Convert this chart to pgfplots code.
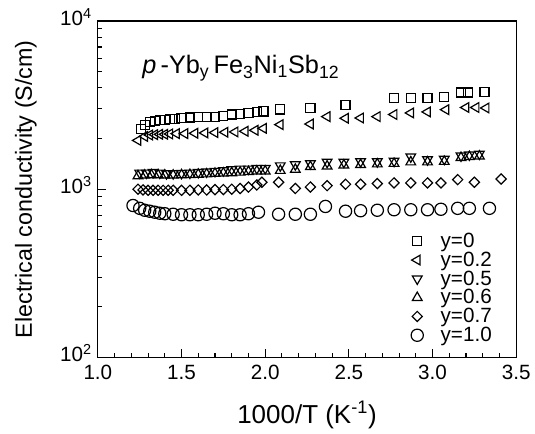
\documentclass[border=0pt]{standalone}
\usepackage{fontspec}
\setmainfont{Liberation Sans}
\usepackage{pgfplots}
\pgfplotsset{compat=1.18}
\begin{document}
\begin{tikzpicture}
\begin{axis}[
  scale only axis,
  width=314.25pt, height=252.75pt,
  ymode=log,
  xmin=1.0, xmax=3.5, ymin=100, ymax=10000,
  xtick={1.0,1.5,2.0,2.5,3.0,3.5},
  minor x tick num=4,
  ytick={100,1000,10000},
  yticklabels={10\textsuperscript{2},10\textsuperscript{3},10\textsuperscript{4}},
  xticklabel style={yshift=-2pt, /pgf/number format/fixed, /pgf/number format/fixed zerofill, /pgf/number format/precision=1},
  /pgf/number format/assume math mode=true,
  tick align=inside, tick pos=left,
  major tick length=6pt, minor tick length=3pt,
  tick style={line width=0.8pt, black},
  axis line style={line width=0.9pt},
  ticklabel style={font=\fontsize{15.5}{17}\selectfont},
  yticklabel style={xshift=-1pt, yshift=3pt},
  xlabel={1000/T (K\textsuperscript{-1})},
  ylabel={Electrical conductivity (S/cm)},
  xlabel style={font=\fontsize{19.5}{21}\selectfont, at={(axis description cs:0.5,-0.170)}, anchor=center},
  ylabel style={font=\fontsize{17.5}{19}\selectfont, at={(axis description cs:-0.172,0.5)}, anchor=center},
  legend style={draw=none, fill=none, at={(0.958,0.025)}, anchor=south east,
    font=\fontsize{15.5}{16}\selectfont, row sep=-2.2pt, cells={anchor=west}},
  legend cell align=left,
  every axis plot/.append style={only marks, black, line width=0.9pt, mark options={solid, fill=none}},
]
% y=0
\addplot[mark=square, mark size=3.4pt] coordinates {
(1.26,2280)(1.28,2420)(1.31,2500)(1.34,2540)(1.37,2570)(1.40,2590)(1.43,2610)(1.46,2620)(1.50,2640)(1.55,2670)(1.60,2680)(1.65,2690)(1.70,2700)(1.75,2730)(1.80,2780)(1.85,2810)(1.90,2850)(1.95,2880)(1.99,2900)(2.09,2980)(2.27,3050)(2.48,3150)(2.77,3470)(2.87,3480)(2.97,3500)(3.07,3530)(3.17,3760)(3.21,3760)(3.31,3800)};
\addlegendentry{\hspace{11pt}y=0}
% y=0.2
\addplot[mark=triangle, mark size=4.2pt, mark options={rotate=90}] coordinates {
(1.24,1950)(1.28,2060)(1.31,2100)(1.34,2110)(1.37,2120)(1.40,2120)(1.43,2130)(1.47,2140)(1.52,2140)(1.58,2150)(1.64,2160)(1.70,2170)(1.76,2180)(1.82,2190)(1.88,2210)(1.94,2240)(1.99,2300)(2.09,2420)(2.27,2440)(2.37,2700)(2.48,2640)(2.57,2650)(2.67,2700)(2.77,2780)(2.87,2840)(2.97,2880)(3.08,2970)(3.20,3060)(3.26,3060)(3.32,3040)};
\addlegendentry{\hspace{11pt}y=0.2}
% y=0.5
\addplot[mark=triangle, mark size=4.2pt, mark options={rotate=180}] coordinates {
(1.25,1250)(1.29,1250)(1.33,1260)(1.37,1250)(1.41,1240)(1.45,1240)(1.50,1245)(1.55,1250)(1.60,1260)(1.65,1270)(1.70,1280)(1.75,1290)(1.80,1310)(1.85,1320)(1.90,1320)(1.95,1330)(2.00,1330)(2.09,1380)(2.18,1400)(2.27,1420)(2.37,1450)(2.47,1450)(2.57,1460)(2.67,1460)(2.77,1470)(2.87,1560)(2.97,1500)(3.07,1510)(3.17,1580)(3.22,1600)(3.28,1620)};
\addlegendentry{\hspace{11pt}y=0.5}
% y=0.6
\addplot[mark=triangle, mark size=4.2pt] coordinates {
(1.24,1200)(1.28,1210)(1.32,1215)(1.36,1215)(1.40,1210)(1.45,1210)(1.50,1215)(1.55,1220)(1.60,1225)(1.65,1230)(1.70,1240)(1.75,1245)(1.80,1250)(1.85,1260)(1.90,1270)(1.95,1280)(2.00,1280)(2.09,1290)(2.18,1310)(2.27,1360)(2.37,1370)(2.47,1390)(2.57,1400)(2.67,1410)(2.77,1420)(2.87,1450)(2.97,1450)(3.07,1460)(3.17,1540)(3.22,1560)(3.28,1570)};
\addlegendentry{\hspace{11pt}y=0.6}
% y=0.7
\addplot[mark=square, mark size=2.7pt, mark options={rotate=45}] coordinates {
(1.24,1000)(1.27,990)(1.30,985)(1.33,985)(1.36,985)(1.39,985)(1.42,985)(1.45,985)(1.50,985)(1.55,985)(1.60,990)(1.65,990)(1.70,995)(1.75,995)(1.80,1000)(1.85,1010)(1.90,1030)(1.95,1060)(1.98,1100)(2.08,1100)(2.18,1010)(2.27,1030)(2.37,1050)(2.48,1070)(2.57,1070)(2.67,1080)(2.77,1090)(2.87,1090)(2.97,1090)(3.05,1090)(3.15,1140)(3.25,1100)(3.41,1150)};
\addlegendentry{\hspace{11pt}y=0.7}
% y=1.0
\addplot[mark=o, mark size=4.6pt] coordinates {
(1.21,800)(1.25,770)(1.28,750)(1.31,740)(1.34,730)(1.37,720)(1.40,715)(1.45,710)(1.50,705)(1.55,705)(1.60,705)(1.65,710)(1.70,720)(1.75,715)(1.80,705)(1.85,705)(1.90,715)(1.96,730)(2.08,710)(2.18,710)(2.27,710)(2.36,790)(2.48,740)(2.57,745)(2.67,750)(2.77,755)(2.87,755)(2.97,755)(3.05,760)(3.15,770)(3.22,770)(3.34,770)};
\addlegendentry{\hspace{11pt}y=1.0}
\node[anchor=west, font=\fontsize{19}{21}\selectfont] at (rel axis cs:0.095,0.86)
  {\textit{p}\,-Yb\textsubscript{y}\,Fe\textsubscript{3}Ni\textsubscript{1}Sb\textsubscript{12}};
\end{axis}
\path (current axis.south west) ++(-73.5pt,-54pt) rectangle ++(401.25pt,322.5pt);
\end{tikzpicture}
\end{document}
